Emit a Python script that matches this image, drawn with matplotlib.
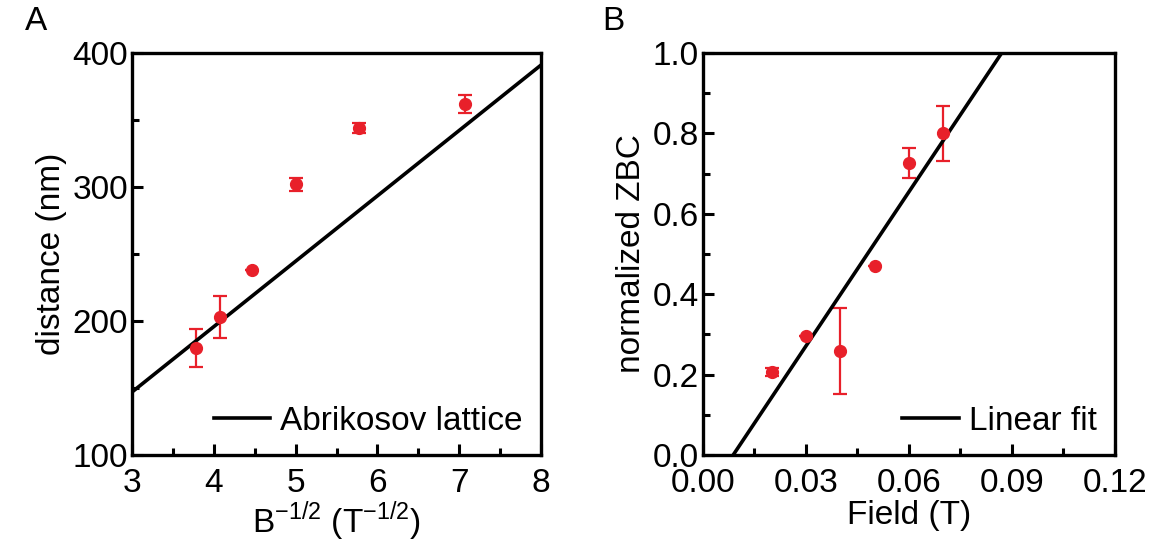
import matplotlib
matplotlib.use("Agg")
import matplotlib.pyplot as plt
from matplotlib.ticker import MultipleLocator, FormatStrFormatter

plt.rcParams['font.family'] = ['Liberation Sans', 'DejaVu Sans']

# panel A data
b_inv = [3.78, 4.07, 4.47, 5.0, 5.77, 7.07]
dist = [180, 203, 238, 302, 344, 362]
dist_err = [14, 16, 0, 5, 4, 7]
abr_x = [3, 8]
abr_y = [147, 391]

# panel B data
field = [0.020, 0.030, 0.040, 0.050, 0.060, 0.070]
zbc = [0.207, 0.295, 0.258, 0.470, 0.726, 0.800]
zbc_err = [0.01, 0.0, 0.107, 0.0, 0.038, 0.068]
fit_x = [0.0088, 0.0870]
fit_y = [0.0, 1.0]

red = '#e8202a'
fs = 24

fig = plt.figure(figsize=(11.56, 5.48), dpi=100)
axA = fig.add_axes([0.1142, 0.1697, 0.3538, 0.7336])
axB = fig.add_axes([0.6081, 0.1697, 0.3564, 0.7336])


def style(ax):
    for s in ax.spines.values():
        s.set_linewidth(2.4)
    ax.tick_params(which='both', direction='in', width=2.2, labelsize=fs,
                   top=False, right=False)
    ax.tick_params(axis='x', pad=9)
    ax.tick_params(axis='y', pad=3)
    ax.tick_params(which='major', length=8)
    ax.tick_params(which='minor', length=5)


axA.errorbar(b_inv, dist, yerr=dist_err, fmt='o', color=red, ms=8.5,
             capsize=5, elinewidth=1.6, capthick=1.6)
axA.plot(abr_x, abr_y, color='black', lw=2.6, label='Abrikosov lattice')
axA.set_xlim(3, 8)
axA.set_ylim(100, 400)
axA.xaxis.set_major_locator(MultipleLocator(1))
axA.xaxis.set_minor_locator(MultipleLocator(0.5))
axA.yaxis.set_major_locator(MultipleLocator(100))
axA.yaxis.set_minor_locator(MultipleLocator(50))
axA.set_xlabel(r'B$^{\mathregular{-1/2}}$ (T$^{\mathregular{-1/2}}$)', fontsize=fs, labelpad=1)
axA.set_ylabel('distance (nm)', fontsize=fs, labelpad=4)
axA.legend(loc='lower right', frameon=False, fontsize=fs, handlelength=1.7,
           handletextpad=0.3, borderaxespad=0.15)
style(axA)

axB.errorbar(field, zbc, yerr=zbc_err, fmt='o', color=red, ms=8.5,
             capsize=5, elinewidth=1.6, capthick=1.6)
axB.plot(fit_x, fit_y, color='black', lw=2.6, label='Linear fit')
axB.set_xlim(0, 0.12)
axB.set_ylim(0, 1.0)
axB.xaxis.set_major_locator(MultipleLocator(0.03))
axB.xaxis.set_minor_locator(MultipleLocator(0.015))
axB.yaxis.set_major_locator(MultipleLocator(0.2))
axB.yaxis.set_minor_locator(MultipleLocator(0.1))
axB.xaxis.set_major_formatter(FormatStrFormatter('%.2f'))
axB.yaxis.set_major_formatter(FormatStrFormatter('%.1f'))
axB.set_xlabel('Field (T)', fontsize=fs, labelpad=1)
axB.set_ylabel('normalized ZBC', fontsize=fs, labelpad=4)
axB.legend(loc='lower right', frameon=False, fontsize=fs, handlelength=1.7,
           handletextpad=0.3, borderaxespad=0.15)
style(axB)

fig.text(0.031, 0.96, 'A', fontsize=fs, ha='center', va='center')
fig.text(0.531, 0.96, 'B', fontsize=fs, ha='center', va='center')

fig.savefig('out.png', dpi=100)
